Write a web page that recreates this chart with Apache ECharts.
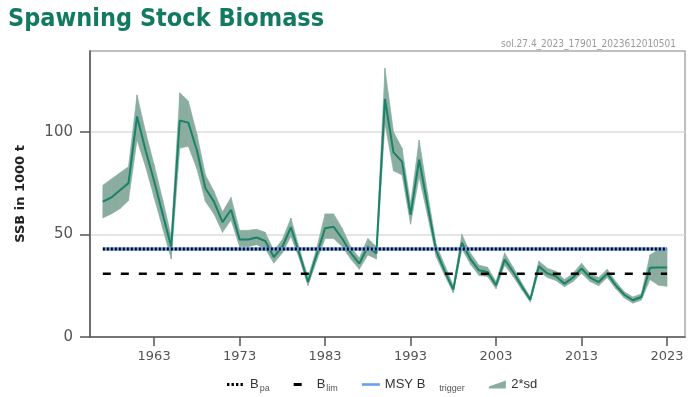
<!DOCTYPE html>
<html>
<head>
<meta charset="utf-8">
<script src="https://cdn.jsdelivr.net/npm/echarts@6/dist/echarts.min.js"></script>
<style>
html,body{margin:0;padding:0;background:#fff;}
#chart{width:696px;height:397px;}
</style>
</head>
<body>
<div id="chart"></div>
<script>
const years = [1957,1958,1959,1960,1961,1962,1963,1964,1965,1966,1967,1968,1969,1970,1971,1972,1973,1974,1975,1976,1977,1978,1979,1980,1981,1982,1983,1984,1985,1986,1987,1988,1989,1990,1991,1992,1993,1994,1995,1996,1997,1998,1999,2000,2001,2002,2003,2004,2005,2006,2007,2008,2009,2010,2011,2012,2013,2014,2015,2016,2017,2018,2019,2020,2021,2022,2023];
const ssb = [66,68,71.5,75,107.5,91,76,60,44,105.5,104.5,91,72.5,66,56,62,47.5,47.5,48.5,46.8,39,44,53.5,40.5,26.8,40,53,53.7,48,41,35.8,44,40.7,116,90,85.5,59.5,86.5,64,42,32,23.1,46,38,32.5,31.7,25.2,37.7,31.7,24.7,18.2,34.5,31,29.6,26,29,33.4,29,26.8,30.9,25.2,20.6,17.9,19.5,33.7,33.9,33.9];
const ssbLow = [58,60,62.5,66.5,96,83,68,53,38,92,93,82,66,60,51,57,44,44,45,43,36,41,49,38,25,37,48,48,44,38,33,40,38,104,81,79,55,78,59,39,30,21.5,43,35.5,30,29.5,23.5,35,29.5,23,17,32,29,27.5,24.5,27,31,27,25,29,23.5,19,16.5,18,28,25.2,24.7];
const ssbHigh = [74,77,80,83,118,100,84,67,49,119,115,99,79,71,61,68,52,52,52.5,51,42,47.5,58,43,29,43,60,60,53,44,38.5,48,44,131,100,92,65,96,70,45,35,25,50,41,35,34,27,41,34,26.5,19.5,37,33.5,32,28,31,36,31,29,33,27,22,19.5,21,40,42.6,43.1];
const Blim = 30.828;
const Bpa = 42.838;
const MSYBtrigger = 42.838;
const xTicks = [1963,1973,1983,1993,2003,2013,2023];
const yTicks = [0,50,100];

const chart = echarts.init(document.getElementById('chart'), null, {renderer:'canvas'});
const pair = (arr) => years.map((y,i) => [y, arr[i]]);
const constLine = (v) => years.map(y => [y, v]);
const bandColor = '#8aada0';
const bandData = years.map((y,i) => [y, ssbLow[i], ssbHigh[i]]);
const nameMap = {
  'Bpa': '{b|B}{s|pa}',
  'Blim': '{b|B}{s|lim}',
  'MSY Btrigger': '{b|MSY B}{t|trigger}',
  '2*sd': '{b|2*sd}'
};
const option = {
  animation: false,
  backgroundColor: '#ffffff',
  title: [{
    text: 'Spawning Stock Biomass',
    left: 3, top: 2,
    textStyle: {fontFamily: "'DejaVu Sans Condensed', 'DejaVu Sans'", fontWeight: 'bold', fontSize: 25, color: '#137a62'}
  },{
    text: 'sol.27.4_2023_17901_2023612010501',
    right: 15, top: 34,
    textStyle: {fontFamily: "'DejaVu Sans Condensed', 'DejaVu Sans'", fontWeight: 'normal', fontSize: 10, color: '#9a9a9a'}
  }],
  grid: {left: 90, right: 11, top: 51, bottom: 60, show: true, borderColor: '#aaaaaa', borderWidth: 1.5, backgroundColor: 'transparent'},
  legend: {
    left: 222, top: 373,
    itemWidth: 18, itemHeight: 8, itemGap: 24,
    selectedMode: false,
    data: [
      {name: 'Bpa', icon: 'path://M0,0 M18,8 M0,2.5h2.4v3h-2.4z M4.5,2.5h2.4v3h-2.4z M9,2.5h2.4v3h-2.4z M13.5,2.5h2.4v3h-2.4z', itemStyle: {color: '#000', borderWidth: 0}},
      {name: 'Blim', icon: 'path://M0,0 M18,8 M0,2.5h8v3h-8z', itemStyle: {color: '#000', borderWidth: 0}},
      {name: 'MSY Btrigger', icon: 'path://M0,0 M18,8 M0,2.7h18v2.6h-18z', itemStyle: {color: '#6a9ef2', borderWidth: 0}},
      {name: '2*sd', icon: 'path://M0,6 L17,0 L17,8 L0,8 z', itemStyle: {color: bandColor, borderWidth: 0}}
    ],
    formatter: (n) => nameMap[n] || n,
    textStyle: {
      fontFamily: "'Liberation Sans', Arial", fontSize: 13, color: '#333',
      rich: {
        b: {fontFamily: "'Liberation Sans', Arial", fontSize: 13, color: '#333'},
        s: {fontFamily: "'Liberation Sans', Arial", fontSize: 9, color: '#555', padding: [8,0,0,1]},
        t: {fontFamily: "'Liberation Sans', Arial", fontSize: 9, color: '#555', padding: [8,0,0,14]}
      }
    }
  },
  xAxis: {
    type: 'value', min: 1955.5, max: 2025.1,
    axisLine: {show: true, onZero: false, lineStyle: {color: '#555', width: 1.5}},
    axisTick: {show: true, length: 9, lineStyle: {color: '#555', width: 1.5}, customValues: xTicks},
    axisLabel: {customValues: xTicks, formatter: v => String(v), color: '#555', fontFamily: "'DejaVu Sans'", fontSize: 13, margin: 13},
    splitLine: {show: false}
  },
  yAxis: {
    type: 'value', min: 0, max: 139.4,
    name: 'SSB in 1000 t', nameLocation: 'middle', nameGap: 63,
    nameTextStyle: {fontFamily: "'DejaVu Sans'", fontWeight: 'bold', fontSize: 13, color: '#222'},
    axisLine: {show: true, lineStyle: {color: '#555', width: 1.5}},
    axisTick: {show: true, length: 10, lineStyle: {color: '#555', width: 1.5}, customValues: yTicks},
    axisLabel: {customValues: yTicks, color: '#555', fontFamily: "'DejaVu Sans'", fontSize: 15, margin: 17},
    splitLine: {show: true, lineStyle: {color: '#dddddd', width: 1.5}}
  },
  series: [
    {
      name: '2*sd', type: 'custom', data: bandData, z: 1, silent: true,
      itemStyle: {color: bandColor},
      encode: {x: 0, y: [1, 2]},
      renderItem: function (params, api) {
        const i = params.dataIndex;
        if (i >= years.length - 1) return null;
        const p = [
          api.coord([years[i], ssbLow[i]]),
          api.coord([years[i + 1], ssbLow[i + 1]]),
          api.coord([years[i + 1], ssbHigh[i + 1]]),
          api.coord([years[i], ssbHigh[i]])
        ];
        return {
          type: 'polygon',
          shape: {points: p},
          style: {fill: bandColor, stroke: bandColor, lineWidth: 0.6}
        };
      }
    },
    {name: 'SSB', type: 'line', data: pair(ssb), symbol: 'none', lineStyle: {color: '#1a8268', width: 2}, itemStyle: {color: '#1a8268'}, z: 2},
    {name: 'MSY Btrigger', type: 'line', data: constLine(MSYBtrigger), symbol: 'none', lineStyle: {color: '#6a9ef2', width: 3.5}, itemStyle: {color: '#6a9ef2'}, z: 3},
    {name: 'Bpa', type: 'line', data: constLine(Bpa), symbol: 'none', lineStyle: {color: '#000', width: 3, type: [2, 2]}, itemStyle: {color: '#000'}, z: 4},
    {name: 'Blim', type: 'line', data: constLine(Blim), symbol: 'none', lineStyle: {color: '#000', width: 2.5, type: [8, 10]}, itemStyle: {color: '#000'}, z: 4}
  ]
};
chart.setOption(option);
</script>
</body>
</html>
